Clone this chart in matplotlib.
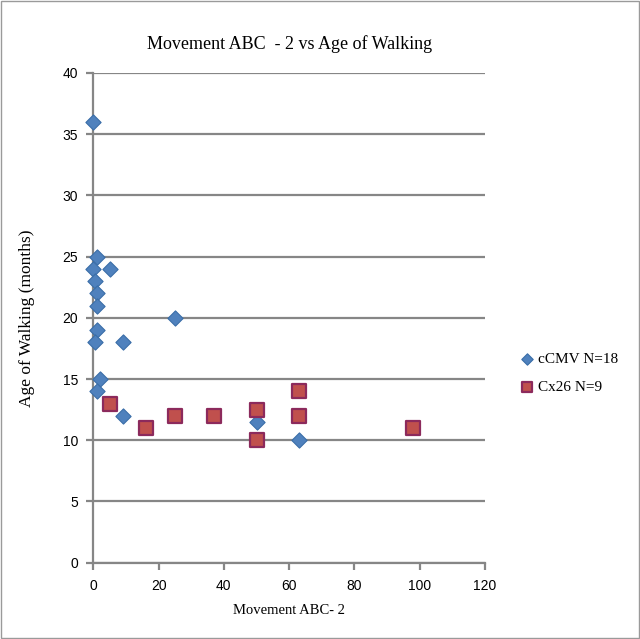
import matplotlib
matplotlib.use('Agg')
import matplotlib.pyplot as plt
from matplotlib.patches import Rectangle

# ---------------------------------------------------------------------------
# Data
# ---------------------------------------------------------------------------
cmv_x = [0, 1, 0, 5, 0.5, 1, 1, 1, 0.5, 9, 2, 1, 9, 25, 50, 63]
cmv_y = [36, 25, 24, 24, 23, 22, 21, 19, 18, 18, 15, 14, 12, 20, 11.5, 10]

cx26_x = [5, 16, 25, 37, 50, 50, 63, 63, 98]
cx26_y = [13, 11, 12, 12, 12.5, 10, 14, 12, 11]

x_ticks = [0, 20, 40, 60, 80, 100, 120]
y_ticks = [0, 5, 10, 15, 20, 25, 30, 35, 40]

SERIF = 'Liberation Serif'
SANS = 'Liberation Sans'
GRID = '#868686'

fig = plt.figure(figsize=(6.4, 6.39), dpi=100)
ax = fig.add_axes([93.3 / 640, 76.3 / 639, 391.7 / 640, 489.7 / 639])

ax.scatter(cmv_x, cmv_y, marker='D', s=60, color='#4F81BD',
           edgecolors='#3A6EA8', linewidths=0.8, zorder=3, clip_on=False,
           label='cCMV N=18')
ax.scatter(cx26_x, cx26_y, marker='s', s=95, color='#C0504D',
           edgecolors='#8C2A5C', linewidths=1.6, zorder=3, clip_on=False,
           label='Cx26 N=9')

ax.set_xlim(0, 120)
ax.set_ylim(0, 40)
ax.set_xticks(x_ticks)
ax.set_yticks(y_ticks)
ax.yaxis.grid(True, color=GRID, linewidth=1.6)
ax.set_axisbelow(True)

for s in ['top', 'right']:
    ax.spines[s].set_visible(False)
for s in ['left', 'bottom']:
    ax.spines[s].set_color(GRID)
    ax.spines[s].set_linewidth(1.6)
ax.tick_params(axis='both', direction='out', color=GRID, width=1.6, length=5,
               labelsize=10)
ax.tick_params(axis='x', pad=7)
ax.tick_params(axis='y', pad=6)
for lab in ax.get_xticklabels() + ax.get_yticklabels():
    lab.set_fontfamily(SANS)

ax.set_title('Movement ABC  - 2 vs Age of Walking', fontsize=13,
             family=SERIF, pad=17)
ax.set_xlabel('Movement ABC- 2', fontsize=10.5, family=SERIF, labelpad=8)
ax.set_ylabel('Age of Walking (months)', fontsize=12.5, family=SERIF,
              labelpad=20)

fig.legend(loc='center left', bbox_to_anchor=(0.8, 0.416), frameon=False,
           prop={'family': SERIF, 'size': 11}, handletextpad=0.1,
           labelspacing=0.9, borderaxespad=0, markerscale=0.75,
           handlelength=1.2)

fig.patches.append(Rectangle((0.002, 0.002), 0.996, 0.996,
                             transform=fig.transFigure, fill=False,
                             edgecolor='#9A9A9A', linewidth=1.0))

plt.savefig('out.png', dpi=100)
